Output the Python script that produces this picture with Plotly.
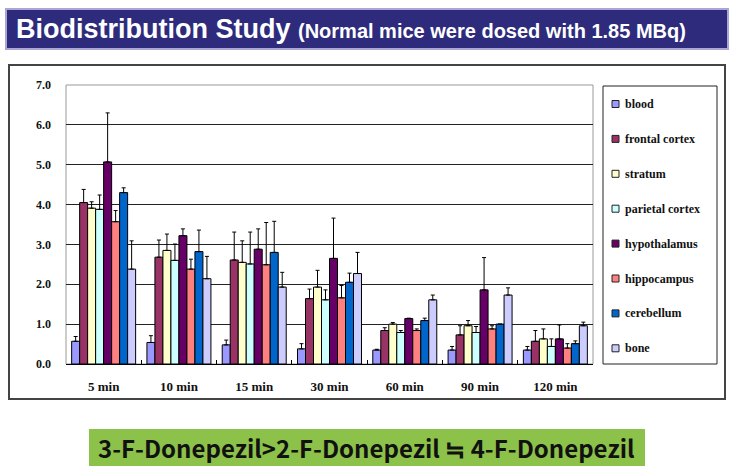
import plotly.graph_objects as go

categories = ["5 min", "10 min", "15 min", "30 min", "60 min", "90 min", "120 min"]
series_names = ["blood", "frontal cortex", "stratum", "parietal cortex",
                "hypothalamus", "hippocampus", "cerebellum", "bone"]

blood = [0.57, 0.54, 0.48, 0.38, 0.35, 0.35, 0.35]
frontal_cortex = [4.05, 2.68, 2.61, 1.64, 0.84, 0.73, 0.57]
stratum = [3.91, 2.85, 2.55, 1.93, 1.00, 0.96, 0.63]
parietal_cortex = [3.88, 2.60, 2.51, 1.61, 0.79, 0.79, 0.44]
hypothalamus = [5.07, 3.22, 2.88, 2.65, 1.14, 1.86, 0.63]
hippocampus = [3.57, 2.38, 2.49, 1.66, 0.84, 0.88, 0.40]
cerebellum = [4.30, 2.82, 2.80, 2.05, 1.09, 1.00, 0.51]
bone = [2.38, 2.14, 1.93, 2.27, 1.61, 1.73, 0.96]

err_blood = [0.12, 0.17, 0.12, 0.13, 0.02, 0.09, 0.09]
err_frontal_cortex = [0.33, 0.43, 0.70, 0.24, 0.07, 0.23, 0.27]
err_stratum = [0.16, 0.41, 0.54, 0.42, 0.04, 0.13, 0.25]
err_parietal_cortex = [0.36, 0.41, 0.80, 0.25, 0.05, 0.15, 0.19]
err_hypothalamus = [1.23, 0.17, 0.51, 1.01, 0.01, 0.81, 0.35]
err_hippocampus = [0.28, 0.25, 1.06, 0.31, 0.04, 0.08, 0.11]
err_cerebellum = [0.12, 0.54, 0.78, 0.23, 0.06, 0.00, 0.07]
err_bone = [0.71, 0.56, 0.37, 0.53, 0.12, 0.18, 0.09]

values = [blood, frontal_cortex, stratum, parietal_cortex,
          hypothalamus, hippocampus, cerebellum, bone]
errors = [err_blood, err_frontal_cortex, err_stratum, err_parietal_cortex,
          err_hypothalamus, err_hippocampus, err_cerebellum, err_bone]
colors = ["#9999FF", "#993366", "#FFFFCC", "#CCFFFF",
          "#660066", "#FF8080", "#0066CC", "#CCCCFF"]

W, H = 732, 469

def px(x):
    return x / W

def py(y):
    return 1 - y / H

fig = go.Figure()
for name, vals, err, col in zip(series_names, values, errors, colors):
    fig.add_trace(go.Bar(
        x=categories, y=vals, name=name, showlegend=False,
        marker=dict(color=col, line=dict(color="#000000", width=1)),
        error_y=dict(type="data", symmetric=False, array=err,
                     arrayminus=[0] * len(err), color="#000000",
                     thickness=1, width=2),
    ))

serif = "Liberation Serif, Times New Roman, serif"

shapes = [
    # title banner
    dict(type="rect", xref="paper", yref="paper",
         x0=px(6), x1=px(728), y0=py(49), y1=py(9),
         fillcolor="#2E2B7C", line=dict(color="#A9A6D6", width=2), layer="below"),
    # chart outer frame
    dict(type="rect", xref="paper", yref="paper",
         x0=px(9), x1=px(725), y0=py(399), y1=py(65),
         fillcolor="rgba(0,0,0,0)", line=dict(color="#444", width=2)),
    # plot area frame
    dict(type="rect", xref="paper", yref="paper",
         x0=px(66), x1=px(593), y0=py(364), y1=py(85),
         fillcolor="rgba(0,0,0,0)", line=dict(color="#999", width=1), layer="below"),
    # legend box
    dict(type="rect", xref="paper", yref="paper",
         x0=px(603), x1=px(717), y0=py(364), y1=py(86),
         fillcolor="rgba(0,0,0,0)", line=dict(color="#222", width=1)),
    # green conclusion box
    dict(type="rect", xref="paper", yref="paper",
         x0=px(89), x1=px(645), y0=py(466), y1=py(429),
         fillcolor="#8DC24A", line=dict(width=0), layer="below"),
]

annotations = [
    dict(xref="paper", yref="paper", x=px(14), y=py(29),
         xanchor="left", yanchor="middle", showarrow=False,
         text="<b>Biodistribution Study</b> <span style='font-size:20px'><b>(Normal mice were dosed with 1.85 MBq)</b></span>",
         font=dict(family="Liberation Sans, Arial, sans-serif", size=27, color="white")),
    dict(xref="paper", yref="paper", x=px(366), y=py(447),
         xanchor="center", yanchor="middle", showarrow=False,
         text="<b>3-F-Donepezil>2-F-Donepezil ≒ 4-F-Donepezil</b>",
         font=dict(family="Noto Sans CJK KR, Noto Sans, sans-serif", size=24, color="#111")),
]

# manual legend (built from the series names and colours)
leg_top, leg_step = 104, 34.9
for i, (name, col) in enumerate(zip(series_names, colors)):
    yc = leg_top + i * leg_step
    shapes.append(dict(type="rect", xref="paper", yref="paper",
                       x0=px(612), x1=px(619), y0=py(yc + 3.5), y1=py(yc - 3.5),
                       fillcolor=col, line=dict(color="#222", width=1)))
    annotations.append(dict(xref="paper", yref="paper", x=px(623), y=py(yc),
                            xanchor="left", yanchor="middle", showarrow=False,
                            text=name,
                            font=dict(family=serif, size=12, color="#111", weight="bold")))

fig.update_layout(
    width=W, height=H,
    margin=dict(l=0, r=0, t=0, b=0, pad=0, autoexpand=False),
    paper_bgcolor="white", plot_bgcolor="white",
    barmode="group", bargap=0.15, bargroupgap=0,
    showlegend=False,
    xaxis=dict(
        domain=[px(66), px(593)], automargin=False,
        showline=True, linecolor="#000", linewidth=1,
        ticks="inside", tickson="boundaries", ticklen=4, tickcolor="#000",
        tickfont=dict(family=serif, size=13, color="#111", weight="bold"),
        ticklabelstandoff=10,
        showgrid=False,
    ),
    yaxis=dict(
        domain=[py(364), py(85)], automargin=False,
        range=[0, 7], dtick=1, tickformat=".1f",
        showgrid=True, gridcolor="#222", gridwidth=1,
        zeroline=False, showline=False, ticks="",
        tickfont=dict(family=serif, size=12, color="#111", weight="bold"),
        ticklabelstandoff=14,
    ),
    shapes=shapes,
    annotations=annotations,
)

fig.write_html("out.html",
               config={"displayModeBar": False},
               post_script="document.body.style.margin='0px';document.body.style.overflow='hidden';")
